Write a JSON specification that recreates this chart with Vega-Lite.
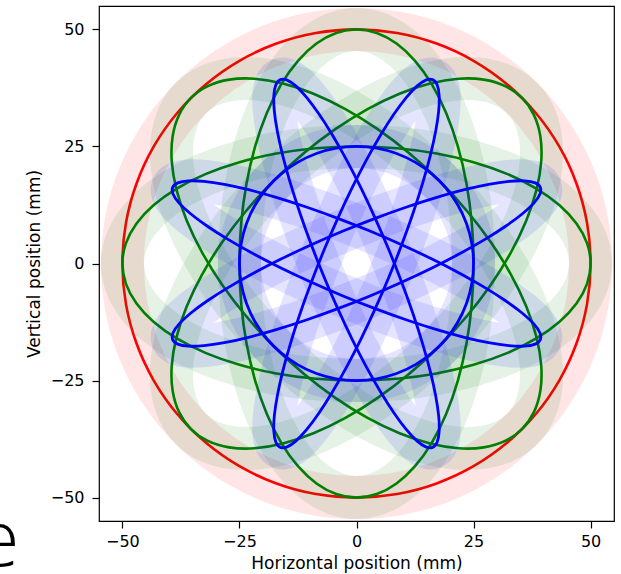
{
"$schema": "https://vega.github.io/schema/vega-lite/v6.json",
"width": 515,
"height": 515,
"autosize": "none",
"padding": {"left": 99, "top": 6, "right": 7, "bottom": 53},
"background": "white",
"config": {
"view": {"stroke": "#000000", "strokeWidth": 1.2},
"axis": {"grid": false, "domain": false, "labelFont": "DejaVu Sans", "titleFont": "DejaVu Sans", "labelFontSize": 16, "titleFontSize": 17, "labelColor": "#000000", "titleColor": "#000000", "tickColor": "#000000", "tickSize": 7, "tickWidth": 1.2, "titleFontWeight": "normal"}
},
"datasets": {
"note": [{"t": "e", "x": -72, "y": -64.6}],
"curves": [
{"c":"R","g":"r","i":0,"x":50,"y":0},{"c":"R","g":"r","i":1,"x":49.24,"y":8.68},{"c":"R","g":"r","i":2,"x":46.98,"y":17.1},{"c":"R","g":"r","i":3,"x":43.3,"y":25},{"c":"R","g":"r","i":4,"x":38.3,"y":32.14},{"c":"R","g":"r","i":5,"x":32.14,"y":38.3},{"c":"R","g":"r","i":6,"x":25,"y":43.3},{"c":"R","g":"r","i":7,"x":17.1,"y":46.98},{"c":"R","g":"r","i":8,"x":8.68,"y":49.24},{"c":"R","g":"r","i":9,"x":0,"y":50},{"c":"R","g":"r","i":10,"x":-8.68,"y":49.24},{"c":"R","g":"r","i":11,"x":-17.1,"y":46.98},{"c":"R","g":"r","i":12,"x":-25,"y":43.3},{"c":"R","g":"r","i":13,"x":-32.14,"y":38.3},{"c":"R","g":"r","i":14,"x":-38.3,"y":32.14},{"c":"R","g":"r","i":15,"x":-43.3,"y":25},{"c":"R","g":"r","i":16,"x":-46.98,"y":17.1},{"c":"R","g":"r","i":17,"x":-49.24,"y":8.68},{"c":"R","g":"r","i":18,"x":-50,"y":0},{"c":"R","g":"r","i":19,"x":-49.24,"y":-8.68},{"c":"R","g":"r","i":20,"x":-46.98,"y":-17.1},{"c":"R","g":"r","i":21,"x":-43.3,"y":-25},{"c":"R","g":"r","i":22,"x":-38.3,"y":-32.14},{"c":"R","g":"r","i":23,"x":-32.14,"y":-38.3},{"c":"R","g":"r","i":24,"x":-25,"y":-43.3},{"c":"R","g":"r","i":25,"x":-17.1,"y":-46.98},{"c":"R","g":"r","i":26,"x":-8.68,"y":-49.24},{"c":"R","g":"r","i":27,"x":0,"y":-50},{"c":"R","g":"r","i":28,"x":8.68,"y":-49.24},{"c":"R","g":"r","i":29,"x":17.1,"y":-46.98},{"c":"R","g":"r","i":30,"x":25,"y":-43.3},{"c":"R","g":"r","i":31,"x":32.14,"y":-38.3},{"c":"R","g":"r","i":32,"x":38.3,"y":-32.14},{"c":"R","g":"r","i":33,"x":43.3,"y":-25},{"c":"R","g":"r","i":34,"x":46.98,"y":-17.1},{"c":"R","g":"r","i":35,"x":49.24,"y":-8.68},
{"c":"G0","g":"g","i":0,"x":50,"y":0},{"c":"G0","g":"g","i":1,"x":49.24,"y":4.34},{"c":"G0","g":"g","i":2,"x":46.98,"y":8.55},{"c":"G0","g":"g","i":3,"x":43.3,"y":12.5},{"c":"G0","g":"g","i":4,"x":38.3,"y":16.07},{"c":"G0","g":"g","i":5,"x":32.14,"y":19.15},{"c":"G0","g":"g","i":6,"x":25,"y":21.65},{"c":"G0","g":"g","i":7,"x":17.1,"y":23.49},{"c":"G0","g":"g","i":8,"x":8.68,"y":24.62},{"c":"G0","g":"g","i":9,"x":0,"y":25},{"c":"G0","g":"g","i":10,"x":-8.68,"y":24.62},{"c":"G0","g":"g","i":11,"x":-17.1,"y":23.49},{"c":"G0","g":"g","i":12,"x":-25,"y":21.65},{"c":"G0","g":"g","i":13,"x":-32.14,"y":19.15},{"c":"G0","g":"g","i":14,"x":-38.3,"y":16.07},{"c":"G0","g":"g","i":15,"x":-43.3,"y":12.5},{"c":"G0","g":"g","i":16,"x":-46.98,"y":8.55},{"c":"G0","g":"g","i":17,"x":-49.24,"y":4.34},{"c":"G0","g":"g","i":18,"x":-50,"y":0},{"c":"G0","g":"g","i":19,"x":-49.24,"y":-4.34},{"c":"G0","g":"g","i":20,"x":-46.98,"y":-8.55},{"c":"G0","g":"g","i":21,"x":-43.3,"y":-12.5},{"c":"G0","g":"g","i":22,"x":-38.3,"y":-16.07},{"c":"G0","g":"g","i":23,"x":-32.14,"y":-19.15},{"c":"G0","g":"g","i":24,"x":-25,"y":-21.65},{"c":"G0","g":"g","i":25,"x":-17.1,"y":-23.49},{"c":"G0","g":"g","i":26,"x":-8.68,"y":-24.62},{"c":"G0","g":"g","i":27,"x":0,"y":-25},{"c":"G0","g":"g","i":28,"x":8.68,"y":-24.62},{"c":"G0","g":"g","i":29,"x":17.1,"y":-23.49},{"c":"G0","g":"g","i":30,"x":25,"y":-21.65},{"c":"G0","g":"g","i":31,"x":32.14,"y":-19.15},{"c":"G0","g":"g","i":32,"x":38.3,"y":-16.07},{"c":"G0","g":"g","i":33,"x":43.3,"y":-12.5},{"c":"G0","g":"g","i":34,"x":46.98,"y":-8.55},{"c":"G0","g":"g","i":35,"x":49.24,"y":-4.34},
{"c":"G90","g":"g","i":0,"x":0,"y":50},{"c":"G90","g":"g","i":1,"x":4.34,"y":49.24},{"c":"G90","g":"g","i":2,"x":8.55,"y":46.98},{"c":"G90","g":"g","i":3,"x":12.5,"y":43.3},{"c":"G90","g":"g","i":4,"x":16.07,"y":38.3},{"c":"G90","g":"g","i":5,"x":19.15,"y":32.14},{"c":"G90","g":"g","i":6,"x":21.65,"y":25},{"c":"G90","g":"g","i":7,"x":23.49,"y":17.1},{"c":"G90","g":"g","i":8,"x":24.62,"y":8.68},{"c":"G90","g":"g","i":9,"x":25,"y":0},{"c":"G90","g":"g","i":10,"x":24.62,"y":-8.68},{"c":"G90","g":"g","i":11,"x":23.49,"y":-17.1},{"c":"G90","g":"g","i":12,"x":21.65,"y":-25},{"c":"G90","g":"g","i":13,"x":19.15,"y":-32.14},{"c":"G90","g":"g","i":14,"x":16.07,"y":-38.3},{"c":"G90","g":"g","i":15,"x":12.5,"y":-43.3},{"c":"G90","g":"g","i":16,"x":8.55,"y":-46.98},{"c":"G90","g":"g","i":17,"x":4.34,"y":-49.24},{"c":"G90","g":"g","i":18,"x":0,"y":-50},{"c":"G90","g":"g","i":19,"x":-4.34,"y":-49.24},{"c":"G90","g":"g","i":20,"x":-8.55,"y":-46.98},{"c":"G90","g":"g","i":21,"x":-12.5,"y":-43.3},{"c":"G90","g":"g","i":22,"x":-16.07,"y":-38.3},{"c":"G90","g":"g","i":23,"x":-19.15,"y":-32.14},{"c":"G90","g":"g","i":24,"x":-21.65,"y":-25},{"c":"G90","g":"g","i":25,"x":-23.49,"y":-17.1},{"c":"G90","g":"g","i":26,"x":-24.62,"y":-8.68},{"c":"G90","g":"g","i":27,"x":-25,"y":0},{"c":"G90","g":"g","i":28,"x":-24.62,"y":8.68},{"c":"G90","g":"g","i":29,"x":-23.49,"y":17.1},{"c":"G90","g":"g","i":30,"x":-21.65,"y":25},{"c":"G90","g":"g","i":31,"x":-19.15,"y":32.14},{"c":"G90","g":"g","i":32,"x":-16.07,"y":38.3},{"c":"G90","g":"g","i":33,"x":-12.5,"y":43.3},{"c":"G90","g":"g","i":34,"x":-8.55,"y":46.98},{"c":"G90","g":"g","i":35,"x":-4.34,"y":49.24},
{"c":"G45","g":"g","i":0,"x":35.36,"y":35.36},{"c":"G45","g":"g","i":1,"x":31.75,"y":37.89},{"c":"G45","g":"g","i":2,"x":27.17,"y":39.27},{"c":"G45","g":"g","i":3,"x":21.78,"y":39.46},{"c":"G45","g":"g","i":4,"x":15.72,"y":38.44},{"c":"G45","g":"g","i":5,"x":9.19,"y":36.27},{"c":"G45","g":"g","i":6,"x":2.37,"y":32.99},{"c":"G45","g":"g","i":7,"x":-4.52,"y":28.7},{"c":"G45","g":"g","i":8,"x":-11.27,"y":23.55},{"c":"G45","g":"g","i":9,"x":-17.68,"y":17.68},{"c":"G45","g":"g","i":10,"x":-23.55,"y":11.27},{"c":"G45","g":"g","i":11,"x":-28.7,"y":4.52},{"c":"G45","g":"g","i":12,"x":-32.99,"y":-2.37},{"c":"G45","g":"g","i":13,"x":-36.27,"y":-9.19},{"c":"G45","g":"g","i":14,"x":-38.44,"y":-15.72},{"c":"G45","g":"g","i":15,"x":-39.46,"y":-21.78},{"c":"G45","g":"g","i":16,"x":-39.27,"y":-27.17},{"c":"G45","g":"g","i":17,"x":-37.89,"y":-31.75},{"c":"G45","g":"g","i":18,"x":-35.36,"y":-35.36},{"c":"G45","g":"g","i":19,"x":-31.75,"y":-37.89},{"c":"G45","g":"g","i":20,"x":-27.17,"y":-39.27},{"c":"G45","g":"g","i":21,"x":-21.78,"y":-39.46},{"c":"G45","g":"g","i":22,"x":-15.72,"y":-38.44},{"c":"G45","g":"g","i":23,"x":-9.19,"y":-36.27},{"c":"G45","g":"g","i":24,"x":-2.37,"y":-32.99},{"c":"G45","g":"g","i":25,"x":4.52,"y":-28.7},{"c":"G45","g":"g","i":26,"x":11.27,"y":-23.55},{"c":"G45","g":"g","i":27,"x":17.68,"y":-17.68},{"c":"G45","g":"g","i":28,"x":23.55,"y":-11.27},{"c":"G45","g":"g","i":29,"x":28.7,"y":-4.52},{"c":"G45","g":"g","i":30,"x":32.99,"y":2.37},{"c":"G45","g":"g","i":31,"x":36.27,"y":9.19},{"c":"G45","g":"g","i":32,"x":38.44,"y":15.72},{"c":"G45","g":"g","i":33,"x":39.46,"y":21.78},{"c":"G45","g":"g","i":34,"x":39.27,"y":27.17},{"c":"G45","g":"g","i":35,"x":37.89,"y":31.75},
{"c":"G135","g":"g","i":0,"x":-35.36,"y":35.36},{"c":"G135","g":"g","i":1,"x":-31.75,"y":37.89},{"c":"G135","g":"g","i":2,"x":-27.17,"y":39.27},{"c":"G135","g":"g","i":3,"x":-21.78,"y":39.46},{"c":"G135","g":"g","i":4,"x":-15.72,"y":38.44},{"c":"G135","g":"g","i":5,"x":-9.19,"y":36.27},{"c":"G135","g":"g","i":6,"x":-2.37,"y":32.99},{"c":"G135","g":"g","i":7,"x":4.52,"y":28.7},{"c":"G135","g":"g","i":8,"x":11.27,"y":23.55},{"c":"G135","g":"g","i":9,"x":17.68,"y":17.68},{"c":"G135","g":"g","i":10,"x":23.55,"y":11.27},{"c":"G135","g":"g","i":11,"x":28.7,"y":4.52},{"c":"G135","g":"g","i":12,"x":32.99,"y":-2.37},{"c":"G135","g":"g","i":13,"x":36.27,"y":-9.19},{"c":"G135","g":"g","i":14,"x":38.44,"y":-15.72},{"c":"G135","g":"g","i":15,"x":39.46,"y":-21.78},{"c":"G135","g":"g","i":16,"x":39.27,"y":-27.17},{"c":"G135","g":"g","i":17,"x":37.89,"y":-31.75},{"c":"G135","g":"g","i":18,"x":35.36,"y":-35.36},{"c":"G135","g":"g","i":19,"x":31.75,"y":-37.89},{"c":"G135","g":"g","i":20,"x":27.17,"y":-39.27},{"c":"G135","g":"g","i":21,"x":21.78,"y":-39.46},{"c":"G135","g":"g","i":22,"x":15.72,"y":-38.44},{"c":"G135","g":"g","i":23,"x":9.19,"y":-36.27},{"c":"G135","g":"g","i":24,"x":2.37,"y":-32.99},{"c":"G135","g":"g","i":25,"x":-4.52,"y":-28.7},{"c":"G135","g":"g","i":26,"x":-11.27,"y":-23.55},{"c":"G135","g":"g","i":27,"x":-17.68,"y":-17.68},{"c":"G135","g":"g","i":28,"x":-23.55,"y":-11.27},{"c":"G135","g":"g","i":29,"x":-28.7,"y":-4.52},{"c":"G135","g":"g","i":30,"x":-32.99,"y":2.37},{"c":"G135","g":"g","i":31,"x":-36.27,"y":9.19},{"c":"G135","g":"g","i":32,"x":-38.44,"y":15.72},{"c":"G135","g":"g","i":33,"x":-39.46,"y":21.78},{"c":"G135","g":"g","i":34,"x":-39.27,"y":27.17},{"c":"G135","g":"g","i":35,"x":-37.89,"y":31.75},
{"c":"B0","g":"b","i":0,"x":25,"y":0},{"c":"B0","g":"b","i":1,"x":24.62,"y":4.34},{"c":"B0","g":"b","i":2,"x":23.49,"y":8.55},{"c":"B0","g":"b","i":3,"x":21.65,"y":12.5},{"c":"B0","g":"b","i":4,"x":19.15,"y":16.07},{"c":"B0","g":"b","i":5,"x":16.07,"y":19.15},{"c":"B0","g":"b","i":6,"x":12.5,"y":21.65},{"c":"B0","g":"b","i":7,"x":8.55,"y":23.49},{"c":"B0","g":"b","i":8,"x":4.34,"y":24.62},{"c":"B0","g":"b","i":9,"x":0,"y":25},{"c":"B0","g":"b","i":10,"x":-4.34,"y":24.62},{"c":"B0","g":"b","i":11,"x":-8.55,"y":23.49},{"c":"B0","g":"b","i":12,"x":-12.5,"y":21.65},{"c":"B0","g":"b","i":13,"x":-16.07,"y":19.15},{"c":"B0","g":"b","i":14,"x":-19.15,"y":16.07},{"c":"B0","g":"b","i":15,"x":-21.65,"y":12.5},{"c":"B0","g":"b","i":16,"x":-23.49,"y":8.55},{"c":"B0","g":"b","i":17,"x":-24.62,"y":4.34},{"c":"B0","g":"b","i":18,"x":-25,"y":0},{"c":"B0","g":"b","i":19,"x":-24.62,"y":-4.34},{"c":"B0","g":"b","i":20,"x":-23.49,"y":-8.55},{"c":"B0","g":"b","i":21,"x":-21.65,"y":-12.5},{"c":"B0","g":"b","i":22,"x":-19.15,"y":-16.07},{"c":"B0","g":"b","i":23,"x":-16.07,"y":-19.15},{"c":"B0","g":"b","i":24,"x":-12.5,"y":-21.65},{"c":"B0","g":"b","i":25,"x":-8.55,"y":-23.49},{"c":"B0","g":"b","i":26,"x":-4.34,"y":-24.62},{"c":"B0","g":"b","i":27,"x":0,"y":-25},{"c":"B0","g":"b","i":28,"x":4.34,"y":-24.62},{"c":"B0","g":"b","i":29,"x":8.55,"y":-23.49},{"c":"B0","g":"b","i":30,"x":12.5,"y":-21.65},{"c":"B0","g":"b","i":31,"x":16.07,"y":-19.15},{"c":"B0","g":"b","i":32,"x":19.15,"y":-16.07},{"c":"B0","g":"b","i":33,"x":21.65,"y":-12.5},{"c":"B0","g":"b","i":34,"x":23.49,"y":-8.55},{"c":"B0","g":"b","i":35,"x":24.62,"y":-4.34},
{"c":"B22","g":"b","i":0,"x":39.27,"y":16.26},{"c":"B22","g":"b","i":1,"x":38.17,"y":17.22},{"c":"B22","g":"b","i":2,"x":35.92,"y":17.65},{"c":"B22","g":"b","i":3,"x":32.57,"y":17.55},{"c":"B22","g":"b","i":4,"x":28.23,"y":16.91},{"c":"B22","g":"b","i":5,"x":23.04,"y":15.76},{"c":"B22","g":"b","i":6,"x":17.15,"y":14.13},{"c":"B22","g":"b","i":7,"x":10.73,"y":12.07},{"c":"B22","g":"b","i":8,"x":3.99,"y":9.65},{"c":"B22","g":"b","i":9,"x":-2.87,"y":6.93},{"c":"B22","g":"b","i":10,"x":-9.64,"y":4.0},{"c":"B22","g":"b","i":11,"x":-16.13,"y":0.95},{"c":"B22","g":"b","i":12,"x":-22.12,"y":-2.13},{"c":"B22","g":"b","i":13,"x":-27.44,"y":-5.15},{"c":"B22","g":"b","i":14,"x":-31.92,"y":-8.01},{"c":"B22","g":"b","i":15,"x":-35.44,"y":-10.62},{"c":"B22","g":"b","i":16,"x":-37.88,"y":-12.91},{"c":"B22","g":"b","i":17,"x":-39.17,"y":-14.81},{"c":"B22","g":"b","i":18,"x":-39.27,"y":-16.26},{"c":"B22","g":"b","i":19,"x":-38.17,"y":-17.22},{"c":"B22","g":"b","i":20,"x":-35.92,"y":-17.65},{"c":"B22","g":"b","i":21,"x":-32.57,"y":-17.55},{"c":"B22","g":"b","i":22,"x":-28.23,"y":-16.91},{"c":"B22","g":"b","i":23,"x":-23.04,"y":-15.76},{"c":"B22","g":"b","i":24,"x":-17.15,"y":-14.13},{"c":"B22","g":"b","i":25,"x":-10.73,"y":-12.07},{"c":"B22","g":"b","i":26,"x":-3.99,"y":-9.65},{"c":"B22","g":"b","i":27,"x":2.87,"y":-6.93},{"c":"B22","g":"b","i":28,"x":9.64,"y":-4.0},{"c":"B22","g":"b","i":29,"x":16.13,"y":-0.95},{"c":"B22","g":"b","i":30,"x":22.12,"y":2.13},{"c":"B22","g":"b","i":31,"x":27.44,"y":5.15},{"c":"B22","g":"b","i":32,"x":31.92,"y":8.01},{"c":"B22","g":"b","i":33,"x":35.44,"y":10.62},{"c":"B22","g":"b","i":34,"x":37.88,"y":12.91},{"c":"B22","g":"b","i":35,"x":39.17,"y":14.81},
{"c":"B67","g":"b","i":0,"x":16.26,"y":39.27},{"c":"B67","g":"b","i":1,"x":17.22,"y":38.17},{"c":"B67","g":"b","i":2,"x":17.65,"y":35.92},{"c":"B67","g":"b","i":3,"x":17.55,"y":32.57},{"c":"B67","g":"b","i":4,"x":16.91,"y":28.23},{"c":"B67","g":"b","i":5,"x":15.76,"y":23.04},{"c":"B67","g":"b","i":6,"x":14.13,"y":17.15},{"c":"B67","g":"b","i":7,"x":12.07,"y":10.73},{"c":"B67","g":"b","i":8,"x":9.65,"y":3.99},{"c":"B67","g":"b","i":9,"x":6.93,"y":-2.87},{"c":"B67","g":"b","i":10,"x":4.0,"y":-9.64},{"c":"B67","g":"b","i":11,"x":0.95,"y":-16.13},{"c":"B67","g":"b","i":12,"x":-2.13,"y":-22.12},{"c":"B67","g":"b","i":13,"x":-5.15,"y":-27.44},{"c":"B67","g":"b","i":14,"x":-8.01,"y":-31.92},{"c":"B67","g":"b","i":15,"x":-10.62,"y":-35.44},{"c":"B67","g":"b","i":16,"x":-12.91,"y":-37.88},{"c":"B67","g":"b","i":17,"x":-14.81,"y":-39.17},{"c":"B67","g":"b","i":18,"x":-16.26,"y":-39.27},{"c":"B67","g":"b","i":19,"x":-17.22,"y":-38.17},{"c":"B67","g":"b","i":20,"x":-17.65,"y":-35.92},{"c":"B67","g":"b","i":21,"x":-17.55,"y":-32.57},{"c":"B67","g":"b","i":22,"x":-16.91,"y":-28.23},{"c":"B67","g":"b","i":23,"x":-15.76,"y":-23.04},{"c":"B67","g":"b","i":24,"x":-14.13,"y":-17.15},{"c":"B67","g":"b","i":25,"x":-12.07,"y":-10.73},{"c":"B67","g":"b","i":26,"x":-9.65,"y":-3.99},{"c":"B67","g":"b","i":27,"x":-6.93,"y":2.87},{"c":"B67","g":"b","i":28,"x":-4.0,"y":9.64},{"c":"B67","g":"b","i":29,"x":-0.95,"y":16.13},{"c":"B67","g":"b","i":30,"x":2.13,"y":22.12},{"c":"B67","g":"b","i":31,"x":5.15,"y":27.44},{"c":"B67","g":"b","i":32,"x":8.01,"y":31.92},{"c":"B67","g":"b","i":33,"x":10.62,"y":35.44},{"c":"B67","g":"b","i":34,"x":12.91,"y":37.88},{"c":"B67","g":"b","i":35,"x":14.81,"y":39.17},
{"c":"B112","g":"b","i":0,"x":-16.26,"y":39.27},{"c":"B112","g":"b","i":1,"x":-17.22,"y":38.17},{"c":"B112","g":"b","i":2,"x":-17.65,"y":35.92},{"c":"B112","g":"b","i":3,"x":-17.55,"y":32.57},{"c":"B112","g":"b","i":4,"x":-16.91,"y":28.23},{"c":"B112","g":"b","i":5,"x":-15.76,"y":23.04},{"c":"B112","g":"b","i":6,"x":-14.13,"y":17.15},{"c":"B112","g":"b","i":7,"x":-12.07,"y":10.73},{"c":"B112","g":"b","i":8,"x":-9.65,"y":3.99},{"c":"B112","g":"b","i":9,"x":-6.93,"y":-2.87},{"c":"B112","g":"b","i":10,"x":-4.0,"y":-9.64},{"c":"B112","g":"b","i":11,"x":-0.95,"y":-16.13},{"c":"B112","g":"b","i":12,"x":2.13,"y":-22.12},{"c":"B112","g":"b","i":13,"x":5.15,"y":-27.44},{"c":"B112","g":"b","i":14,"x":8.01,"y":-31.92},{"c":"B112","g":"b","i":15,"x":10.62,"y":-35.44},{"c":"B112","g":"b","i":16,"x":12.91,"y":-37.88},{"c":"B112","g":"b","i":17,"x":14.81,"y":-39.17},{"c":"B112","g":"b","i":18,"x":16.26,"y":-39.27},{"c":"B112","g":"b","i":19,"x":17.22,"y":-38.17},{"c":"B112","g":"b","i":20,"x":17.65,"y":-35.92},{"c":"B112","g":"b","i":21,"x":17.55,"y":-32.57},{"c":"B112","g":"b","i":22,"x":16.91,"y":-28.23},{"c":"B112","g":"b","i":23,"x":15.76,"y":-23.04},{"c":"B112","g":"b","i":24,"x":14.13,"y":-17.15},{"c":"B112","g":"b","i":25,"x":12.07,"y":-10.73},{"c":"B112","g":"b","i":26,"x":9.65,"y":-3.99},{"c":"B112","g":"b","i":27,"x":6.93,"y":2.87},{"c":"B112","g":"b","i":28,"x":4.0,"y":9.64},{"c":"B112","g":"b","i":29,"x":0.95,"y":16.13},{"c":"B112","g":"b","i":30,"x":-2.13,"y":22.12},{"c":"B112","g":"b","i":31,"x":-5.15,"y":27.44},{"c":"B112","g":"b","i":32,"x":-8.01,"y":31.92},{"c":"B112","g":"b","i":33,"x":-10.62,"y":35.44},{"c":"B112","g":"b","i":34,"x":-12.91,"y":37.88},{"c":"B112","g":"b","i":35,"x":-14.81,"y":39.17},
{"c":"B157","g":"b","i":0,"x":-39.27,"y":16.26},{"c":"B157","g":"b","i":1,"x":-38.17,"y":17.22},{"c":"B157","g":"b","i":2,"x":-35.92,"y":17.65},{"c":"B157","g":"b","i":3,"x":-32.57,"y":17.55},{"c":"B157","g":"b","i":4,"x":-28.23,"y":16.91},{"c":"B157","g":"b","i":5,"x":-23.04,"y":15.76},{"c":"B157","g":"b","i":6,"x":-17.15,"y":14.13},{"c":"B157","g":"b","i":7,"x":-10.73,"y":12.07},{"c":"B157","g":"b","i":8,"x":-3.99,"y":9.65},{"c":"B157","g":"b","i":9,"x":2.87,"y":6.93},{"c":"B157","g":"b","i":10,"x":9.64,"y":4.0},{"c":"B157","g":"b","i":11,"x":16.13,"y":0.95},{"c":"B157","g":"b","i":12,"x":22.12,"y":-2.13},{"c":"B157","g":"b","i":13,"x":27.44,"y":-5.15},{"c":"B157","g":"b","i":14,"x":31.92,"y":-8.01},{"c":"B157","g":"b","i":15,"x":35.44,"y":-10.62},{"c":"B157","g":"b","i":16,"x":37.88,"y":-12.91},{"c":"B157","g":"b","i":17,"x":39.17,"y":-14.81},{"c":"B157","g":"b","i":18,"x":39.27,"y":-16.26},{"c":"B157","g":"b","i":19,"x":38.17,"y":-17.22},{"c":"B157","g":"b","i":20,"x":35.92,"y":-17.65},{"c":"B157","g":"b","i":21,"x":32.57,"y":-17.55},{"c":"B157","g":"b","i":22,"x":28.23,"y":-16.91},{"c":"B157","g":"b","i":23,"x":23.04,"y":-15.76},{"c":"B157","g":"b","i":24,"x":17.15,"y":-14.13},{"c":"B157","g":"b","i":25,"x":10.73,"y":-12.07},{"c":"B157","g":"b","i":26,"x":3.99,"y":-9.65},{"c":"B157","g":"b","i":27,"x":-2.87,"y":-6.93},{"c":"B157","g":"b","i":28,"x":-9.64,"y":-4.0},{"c":"B157","g":"b","i":29,"x":-16.13,"y":-0.95},{"c":"B157","g":"b","i":30,"x":-22.12,"y":2.13},{"c":"B157","g":"b","i":31,"x":-27.44,"y":5.15},{"c":"B157","g":"b","i":32,"x":-31.92,"y":8.01},{"c":"B157","g":"b","i":33,"x":-35.44,"y":10.62},{"c":"B157","g":"b","i":34,"x":-37.88,"y":12.91},{"c":"B157","g":"b","i":35,"x":-39.17,"y":14.81}
]
},
"encoding": {
"x": {"field": "x", "type": "quantitative", "scale": {"domain": [-55, 55], "nice": false, "zero": false}, "axis": {"values": [-50, -25, 0, 25, 50], "title": "Horizontal position (mm)", "labelPadding": 5, "titlePadding": 6}},
"y": {"field": "y", "type": "quantitative", "scale": {"domain": [-55, 55], "nice": false, "zero": false}, "axis": {"values": [-50, -25, 0, 25, 50], "title": "Vertical position (mm)", "labelPadding": 8, "titlePadding": 7}}
},
"layer": [
{"data": {"name": "curves"}, "transform": [{"filter": "datum.g == 'r'"}], "mark": {"type": "line", "interpolate": "cardinal-closed", "stroke": "#ff0000", "strokeWidth": 43, "strokeOpacity": 0.1, "strokeJoin": "round", "clip": true}, "encoding": {"detail": {"field": "c"}, "order": {"field": "i", "type": "quantitative"}}},
{"data": {"name": "curves"}, "transform": [{"filter": "datum.g == 'r'"}], "mark": {"type": "line", "interpolate": "cardinal-closed", "stroke": "#ff0000", "strokeWidth": 2.6, "clip": true}, "encoding": {"detail": {"field": "c"}, "order": {"field": "i", "type": "quantitative"}}},
{"data": {"name": "curves"}, "transform": [{"filter": "datum.g == 'g'"}], "mark": {"type": "line", "interpolate": "cardinal-closed", "stroke": "#008000", "strokeWidth": 43, "strokeOpacity": 0.1, "strokeJoin": "round", "clip": true}, "encoding": {"detail": {"field": "c"}, "order": {"field": "i", "type": "quantitative"}}},
{"data": {"name": "curves"}, "transform": [{"filter": "datum.g == 'g'"}], "mark": {"type": "line", "interpolate": "cardinal-closed", "stroke": "#008000", "strokeWidth": 2.6, "clip": true}, "encoding": {"detail": {"field": "c"}, "order": {"field": "i", "type": "quantitative"}}},
{"data": {"name": "curves"}, "transform": [{"filter": "datum.g == 'b'"}], "mark": {"type": "line", "interpolate": "cardinal-closed", "stroke": "#0000ff", "strokeWidth": 43, "strokeOpacity": 0.1, "strokeJoin": "round", "clip": true}, "encoding": {"detail": {"field": "c"}, "order": {"field": "i", "type": "quantitative"}}},
{"data": {"name": "curves"}, "transform": [{"filter": "datum.g == 'b'"}], "mark": {"type": "line", "interpolate": "cardinal-closed", "stroke": "#0000ff", "strokeWidth": 2.8, "clip": true}, "encoding": {"detail": {"field": "c"}, "order": {"field": "i", "type": "quantitative"}}},
{"data": {"name": "note"}, "mark": {"type": "text", "font": "Open Sans", "fontWeight": 300, "fontSize": 77, "align": "right", "baseline": "alphabetic", "color": "#000000"}, "encoding": {"text": {"field": "t"}}}
]
}
